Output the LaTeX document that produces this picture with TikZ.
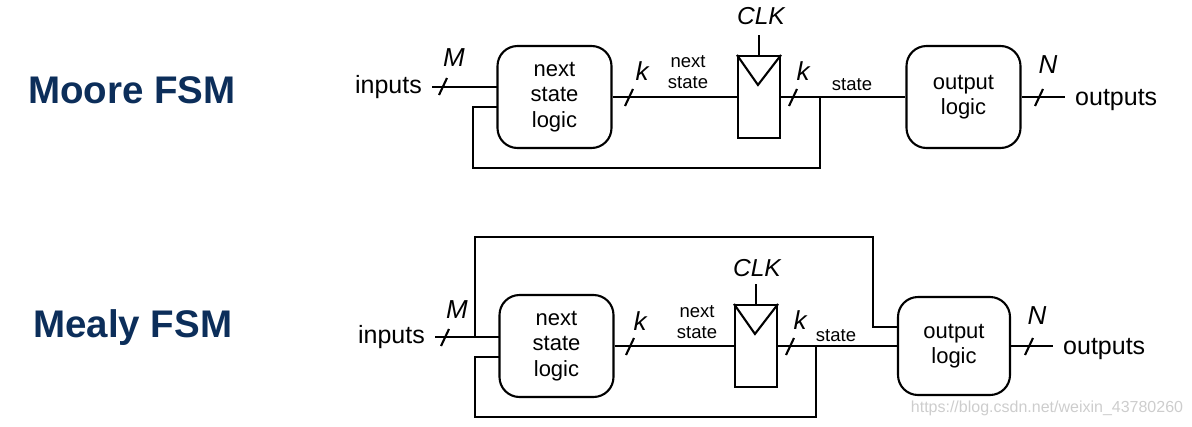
\documentclass[tikz,border=0pt]{standalone}
\usepackage{fontspec}
\setmainfont{Liberation Sans}
\definecolor{navy}{RGB}{12,46,90}
\definecolor{wmgray}{RGB}{205,205,205}
\begin{document}
\begin{tikzpicture}[x=1pt,y=-1pt,
  wire/.style={line width=2.1pt},
  logicbox/.style={draw, line width=2.1pt, rounded corners=20pt, minimum width=114pt, minimum height=102pt, align=center, inner sep=0pt, font=\fontsize{22}{25.5}\selectfont},
  ffbox/.style={draw, line width=2.1pt, minimum width=42pt, minimum height=82pt, inner sep=0pt},
  iotext/.style={inner sep=0pt, font=\fontsize{25}{28}\selectfont},
  smalltext/.style={inner sep=0pt, align=center, font=\fontsize{18.5}{21}\selectfont},
  buslabel/.style={inner sep=0pt, font=\fontsize{26}{28}\selectfont\itshape},
  clklabel/.style={inner sep=0pt, font=\fontsize{24.5}{27}\selectfont\itshape},
  titletext/.style={inner sep=0pt, text=navy, font=\fontsize{38.5}{42}\selectfont\bfseries},
  slash/.style={line width=2.1pt}
]
\useasboundingbox (0,0) rectangle (1192,426);

% ---------------- Moore ----------------
\node[titletext, anchor=base west] (mooret) at (28,103) {Moore FSM};
\node[iotext, anchor=base east] (min) at (422,93) {inputs};
\node[logicbox] (mns) at (554.5,97) {next\\state\\logic};
\node[ffbox] (mff) at (759,97) {};
\node[logicbox] (mol) at (963.5,97) {output\\logic};
\node[iotext, anchor=base west] (mout) at (1075,105) {outputs};
\node[clklabel] (mclk) at (761,16) {CLK};
\node[buslabel] (mM) at (454,58) {M};
\node[buslabel] (mk1) at (642,71) {k};
\node[buslabel] (mk2) at (803,71) {k};
\node[buslabel] (mN) at (1048,65) {N};
\node[smalltext] (mnsl) at (688,72.5) {next\\state};
\node[smalltext] (mstl) at (852,85) {state};

\coordinate (minl) at (432,87);
\coordinate (minr) at (497,87);
\coordinate (mj) at (820,97);
\coordinate (mfb) at (497,107);

\draw[wire] (minl) -- (minr);
\draw[wire] (mns.east) -- (mns.east -| mff.west);
\draw[wire] (mff.east) -- (mol.west);
\draw[wire] (mol.east) -- (1065,97) coordinate (moutl);
\draw[wire] (mj) -- (820,168) -- (473,168) -- (473,107) -- (mfb);
\draw[wire] (mff.north) -- ++(0,-20);
\draw[wire] (mff.north west) -- ++(21,30) -- (mff.north east);

\draw[slash] (439,95) -- (447,78);
\draw[slash] (625,106) -- (633,89);
\draw[slash] (789,106) -- (797,89);
\draw[slash] (1035,106) -- (1043,89);

% ---------------- Mealy ----------------
\node[titletext, anchor=base west] (mealyt) at (33,337) {Mealy FSM};
\node[iotext, anchor=base east] (ein) at (425,343) {inputs};
\node[logicbox] (ens) at (556.5,346) {next\\state\\logic};
\node[ffbox] (eff) at (756,346) {};
\node[logicbox, minimum width=112pt, minimum height=98pt] (eol) at (954,346) {output\\logic};
\node[iotext, anchor=base west] (eout) at (1063,354) {outputs};
\node[clklabel] (eclk) at (757,268) {CLK};
\node[buslabel] (eM) at (457,310) {M};
\node[buslabel] (ek1) at (640,321) {k};
\node[buslabel] (ek2) at (800,320) {k};
\node[buslabel] (eN) at (1037,316) {N};
\node[smalltext] (ensl) at (697,322) {next\\state};
\node[smalltext] (estl) at (836,336) {state};

\coordinate (einl) at (435,337);
\coordinate (einr) at (500,337);
\coordinate (etj) at (475,337);
\coordinate (ej) at (816,346);
\coordinate (efb) at (500,357);
\coordinate (eoin) at (898,327);

\draw[wire] (einl) -- (einr);
\draw[wire] (etj) -- (475,237) -- (873,237) -- (873,327) -- (eoin);
\draw[wire] (ens.east) -- (ens.east -| eff.west);
\draw[wire] (eff.east) -- (eol.west);
\draw[wire] (eol.east) -- (1053,346) coordinate (eoutl);
\draw[wire] (ej) -- (816,417) -- (475,417) -- (475,357) -- (efb);
\draw[wire] (eff.north) -- ++(0,-20);
\draw[wire] (eff.north west) -- ++(21,30) -- (eff.north east);

\draw[slash] (441,346) -- (449,329);
\draw[slash] (626,355) -- (634,338);
\draw[slash] (786,355) -- (794,338);
\draw[slash] (1025,355) -- (1033,338);

\node[inner sep=0pt, text=wmgray, font=\fontsize{16}{18}\selectfont] (wm) at (1047,408) {https://blog.csdn.net/weixin\_43780260};
\end{tikzpicture}
\end{document}
